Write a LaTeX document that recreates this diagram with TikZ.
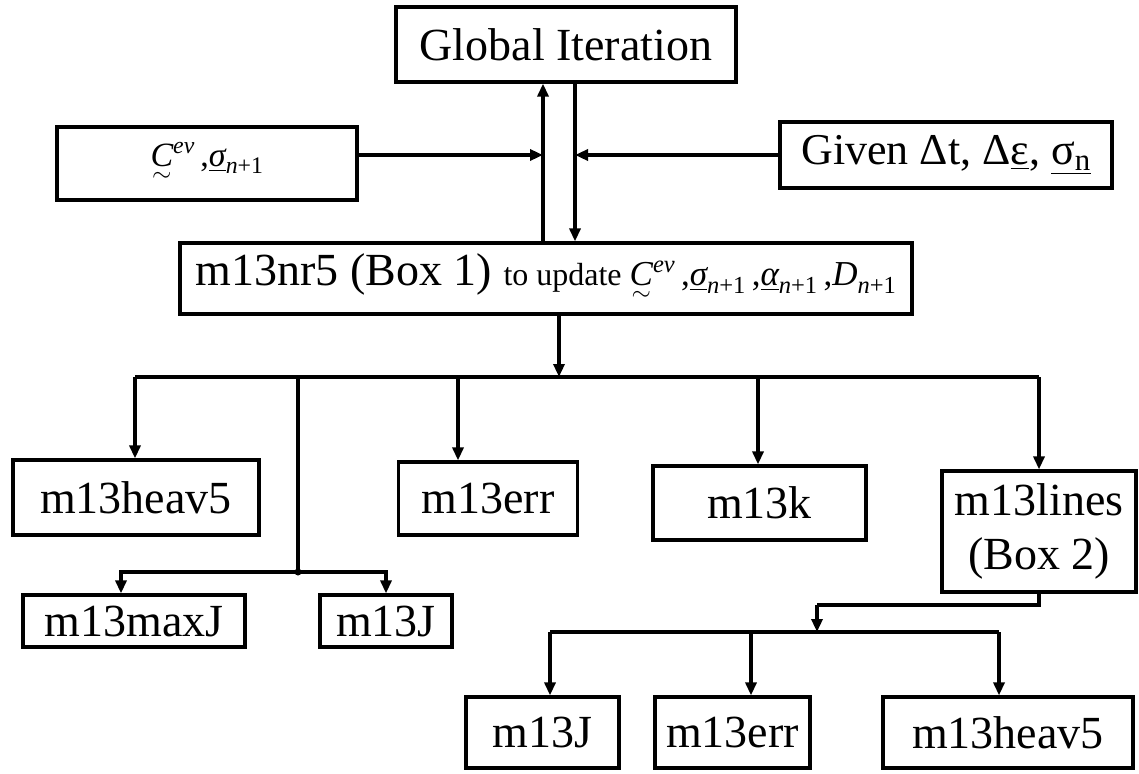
\documentclass[tikz,border=0pt]{standalone}
\usepackage{amsmath}
\usepackage{fontspec}
\setmainfont{Liberation Serif}
\usetikzlibrary{arrows.meta}
\newcommand{\Cev}{$\underset{\sim}{\text{\itshape C}}^{\text{\itshape ev}}$}
\newcommand{\usig}{$\underline{\text{\itshape σ}}_{\text{\itshape n}\text{+1}}$}
\newcommand{\ualp}{$\underline{\text{\itshape α}}_{\text{\itshape n}\text{+1}}$}
\newcommand{\Dn}{$\text{\itshape D}_{\text{\itshape n}\text{+1}}$}
\tikzset{
  box/.style={draw, line width=3.2pt, inner sep=0pt, align=center, font=\fontsize{46}{54}\selectfont},
  conn/.style={line width=3.2pt},
  arr/.style={line width=3.2pt, -{Triangle[length=13pt,width=11pt]}}
}
\begin{document}
\begin{tikzpicture}[x=1pt,y=-1pt]
\useasboundingbox (0,0) rectangle (1139,773);
\node[box, minimum width=340, minimum height=75] (glob) at (566,44.5) {Global Iteration};
\node[box, minimum width=300, minimum height=73, font=\fontsize{34}{38}\selectfont] (cev) at (207,163.5) {\Cev\,,\usig};
\node[box, minimum width=332, minimum height=66, font=\fontsize{44}{48}\selectfont] (given) at (946,155) {Given Δt, Δ\underline{ε}, \underline{σ\textsubscript{n}}};
\node[box, minimum width=732, minimum height=71] (nr5) at (546,278.5) {m13nr5 (Box 1) {\fontsize{32}{36}\selectfont to update {\fontsize{35}{38}\selectfont\Cev\,,\usig\,,\ualp\,,\Dn}}};
\node[box, minimum width=246, minimum height=75] (heavA) at (136,497.5) {m13heav5};
\node[box, minimum width=179, minimum height=73] (errA) at (488,498.5) {m13err};
\node[box, minimum width=213, minimum height=74] (kA) at (759.5,503) {m13k};
\node[box, minimum width=194, minimum height=121] (lines) at (1039,531.5) {m13lines\\(Box 2)};
\node[box, minimum width=222, minimum height=52] (maxJ) at (134,621) {m13maxJ};
\node[box, minimum width=132, minimum height=52] (JA) at (386,621) {m13J};
\node[box, minimum width=153, minimum height=71] (JB) at (542.5,732.5) {m13J};
\node[box, minimum width=155, minimum height=71] (errB) at (732.5,732.5) {m13err};
\node[box, minimum width=250, minimum height=71] (heavB) at (1008,732.5) {m13heav5};
% vertical lines between global and nr5
\coordinate (upx) at (543,0);
\coordinate (dnx) at (575,0);
\coordinate (ay) at (0,155);
\draw[arr] (nr5.north -| upx) -- (glob.south -| upx);
\draw[arr] (glob.south -| dnx) -- (nr5.north -| dnx);
\draw[arr] (cev.east |- ay) -- (upx |- ay);
\draw[arr] (given.west |- ay) -- (dnx |- ay);
% main bus
\coordinate (b1) at (559,377);
\draw[arr] (nr5.south -| b1) -- (b1);
\coordinate (xh) at (135,0);
\coordinate (xerr) at (458,0);
\coordinate (xk) at (758,0);
\draw[conn] (xh |- b1) -- (lines.north |- b1);
\draw[arr] (xh |- b1) -- (xh |- heavA.north);
\draw[arr] (xerr |- b1) -- (xerr |- errA.north);
\draw[arr] (xk |- b1) -- (xk |- kA.north);
\draw[arr] (lines.north |- b1) -- (lines.north);
% junction to maxJ and J
\coordinate (j1) at (298,377);
\coordinate (j2) at (298,572);
\coordinate (mx) at (121,0);
\draw[conn] (j1) -- (j2);
\draw[arr] (j2) -| (mx |- maxJ.north);
\draw[arr] (j2) -| (JA.north);
\fill (j2) circle (3.5);
% lines to bottom row
\coordinate (l1) at (1039,605);
\coordinate (l2) at (817,605);
\coordinate (l3) at (817,632);
\draw[conn] (lines.south) -- (l1) -- (l2);
\draw[arr] (l2) -- (l3);
\coordinate (c1) at (550,632);
\coordinate (c2) at (751,632);
\coordinate (c3) at (999,632);
\draw[conn] (c1) -- (c3);
\draw[arr] (c1) -- (c1 |- JB.north);
\draw[arr] (c2) -- (c2 |- errB.north);
\draw[arr] (c3) -- (c3 |- heavB.north);
\end{tikzpicture}
\end{document}
